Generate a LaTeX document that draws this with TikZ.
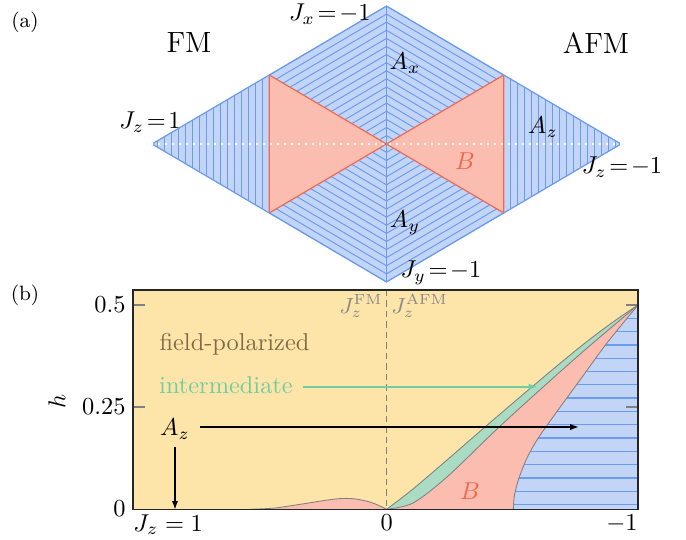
\documentclass[tikz,border=0pt]{standalone}
\usetikzlibrary{arrows.meta}
\definecolor{bfill}{HTML}{C2D5F6}
\definecolor{bline}{HTML}{6B9BEE}
\definecolor{rfill}{HTML}{FCBDB1}
\definecolor{rline}{HTML}{EE6A55}
\definecolor{rtext}{HTML}{F2664A}
\definecolor{yfill}{HTML}{FDE5A9}
\definecolor{gfill}{HTML}{A9DCC3}
\definecolor{gline}{HTML}{70CDA2}
\definecolor{brownt}{HTML}{7E6B45}
\definecolor{grayt}{HTML}{8A8A8A}
\tikzset{
  hatch/.style={draw=bline, line width=0.4pt},
  hatchb/.style={draw=bline, line width=0.55pt},
  edgeb/.style={draw=bline, line width=0.5pt, line join=round},
  edger/.style={draw=rline, fill=rfill, line width=0.5pt, line join=round},
  curve/.style={draw=gray, line width=0.35pt},
  tickm/.style={draw=gray, line width=0.45pt},
  axisbox/.style={draw=black!85, line width=0.5pt},
  arr/.style={-{Latex[length=3.4pt,width=2.6pt]}, line width=0.45pt},
  lab/.style={inner sep=0pt},
}
\begin{document}
\begin{tikzpicture}[x=0.41pt,y=-0.41pt]
\useasboundingbox (0,0) rectangle (686,540);
% ---------------- panel (a) ----------------
\coordinate (T) at (386.5,6);
\coordinate (L) at (152,144);
\coordinate (R) at (621,144);
\coordinate (Bt) at (386.5,282);
\coordinate (C) at (386.5,144);
\coordinate (TL) at (269.25,75);
\coordinate (TR) at (503.75,75);
\coordinate (BL) at (269.25,213);
\coordinate (BR) at (503.75,213);
\fill[bfill] (T)--(R)--(Bt)--(L)--cycle;
% left and right A_z hatch
\begin{scope}
  \clip (L)--(TL)--(BL)--cycle;
  \foreach \i in {1,...,17} \draw[hatch] (269.25-7*\i,0) -- (269.25-7*\i,300);
\end{scope}
\begin{scope}
  \clip (R)--(TR)--(BR)--cycle;
  \foreach \i in {1,...,17} \draw[hatch] (503.75+7*\i,0) -- (503.75+7*\i,300);
\end{scope}
% A_x hatch
\begin{scope}
  \clip (T)--(C)--(TL)--cycle;
  \foreach \i in {0,...,18} \draw[hatch] (386.5,6+8.1*\i) -- (86.5,183+8.1*\i);
\end{scope}
\begin{scope}
  \clip (T)--(TR)--(C)--cycle;
  \foreach \i in {0,...,18} \draw[hatch] (386.5,6+8.1*\i) -- (686.5,183+8.1*\i);
\end{scope}
% A_y hatch
\begin{scope}
  \clip (Bt)--(C)--(BL)--cycle;
  \foreach \i in {0,...,18} \draw[hatch] (386.5,282-8.1*\i) -- (86.5,105-8.1*\i);
\end{scope}
\begin{scope}
  \clip (Bt)--(BR)--(C)--cycle;
  \foreach \i in {0,...,18} \draw[hatch] (386.5,282-8.1*\i) -- (686.5,105-8.1*\i);
\end{scope}
% B triangles
\path[edger] (TL)--(C)--(BL)--cycle;
\path[edger] (TR)--(C)--(BR)--cycle;
\draw[edgeb] (T)--(R)--(Bt)--(L)--cycle;
\draw[edgeb] (T)--(Bt);
\draw[white, line width=1.1pt, line cap=round, dash pattern=on 0pt off 2.87pt] (L)--(R);
% labels (a)
\node[lab] (pa) at (25,22) {\fontsize{8.5}{10}\selectfont (a)};
\node[lab] (fm) at (189,43) {\large FM};
\node[lab] (afm) at (596,43) {\large AFM};
\node[lab, anchor=east] (jx) at (371,14) {$J_x\!=\!-1$};
\node[lab] (jz1) at (150,122) {$J_z\!=\!1$};
\node[lab] (jzm) at (622,167) {$J_z\!=\!-1$};
\node[lab] (jy) at (441,273) {$J_y\!=\!-1$};
\node[lab] (ax) at (405,63) {$A_x$};
\node[lab] (azr) at (543,127) {$A_z$};
\node[lab] (ay) at (405,223) {$A_y$};
\node[lab, text=rtext] (ba) at (465,161) {$B$};
% ---------------- panel (b) ----------------
\fill[yfill] (133,290) rectangle (638,509.3);
% red bump
\fill[rfill] plot[smooth, tension=0.6] coordinates {(250,509.3) (275,508) (299,504.5) (342,498.5) (368,501.5) (386.7,509.3)} -- cycle;
\draw[curve] plot[smooth, tension=0.6] coordinates {(250,509.3) (275,508) (299,504.5) (342,498.5) (368,501.5) (386.7,509.3)};
% green (under upper curve)
\fill[gfill] plot[smooth] coordinates {(386.7,509.3) (413,489) (447,460) (485,427) (533,386) (580,347) (613,322) (638,305)} -- (638,509.3) -- cycle;
% red (under lower curve)
\fill[rfill] plot[smooth] coordinates {(386.7,509.3) (413,503) (447,477) (497,429) (542,388) (586,349) (638,305)} -- (638,509.3) -- cycle;
% blue region
\fill[bfill] plot[smooth] coordinates {(513.3,509.3) (514.5,495) (519,478) (527,458) (537,440) (553,417) (580,380) (607,343) (638,305)} -- (638,509.3) -- cycle;
\begin{scope}
  \clip plot[smooth] coordinates {(513.3,509.3) (514.5,495) (519,478) (527,458) (537,440) (553,417) (580,380) (607,343) (638,305)} -- (638,509.3) -- cycle;
  \foreach \k in {1,...,15} \draw[hatchb] (500,305+13.3*\k) -- (640,305+13.3*\k);
\end{scope}
\draw[curve] plot[smooth] coordinates {(386.7,509.3) (413,489) (447,460) (485,427) (533,386) (580,347) (613,322) (638,305)};
\draw[curve] plot[smooth] coordinates {(386.7,509.3) (413,503) (447,477) (497,429) (542,388) (586,349) (638,305)};
\draw[curve] plot[smooth] coordinates {(513.3,509.3) (514.5,495) (519,478) (527,458) (537,440) (553,417) (580,380) (607,343) (638,305)};
% dashed line
\draw[gray, line width=0.45pt, dash pattern=on 2.6pt off 1.7pt] (386.7,290) -- (386.7,509.3);
% ticks
\foreach \yy in {305,407} {
  \draw[tickm] (133,\yy) -- (145,\yy);
  \draw[tickm] (626,\yy) -- (638,\yy);
}
\draw[axisbox] (133,290) rectangle (638,509.3);
% tick labels
\node[lab, anchor=east] (t05) at (126,305) {$0.5$};
\node[lab, anchor=east] (t025) at (126,407) {$0.25$};
\node[lab, anchor=east] (t0) at (126,509) {$0$};
\node[lab, anchor=north west] (xl) at (133,514) {$J_z = 1$};
\node[lab, anchor=north] (xm) at (386.7,514) {$0$};
\node[lab, anchor=north east] (xr) at (638,514) {$-1$};
\node[lab, rotate=90] (hl) at (57,401) {$h$};
\node[lab] (pb) at (25,295) {\fontsize{8.5}{10}\selectfont (b)};
% in-plot labels
\node[lab, anchor=north east, text=grayt] (jfm) at (383,294) {\small $J_z^{\mathrm{FM}}$};
\node[lab, anchor=north west, text=grayt] (jafm) at (391,294) {\small $J_z^{\mathrm{AFM}}$};
\node[lab, text=brownt] (fp) at (234.5,344) {field-polarized};
\node[inner sep=0pt, text=gline] (intl) at (226,385) {intermediate};
\node[lab] (azl) at (175,429) {$A_z$};
\node[lab, text=rtext] (bb) at (470,491) {$B$};
\coordinate (intend) at (537,386.7);
\coordinate (azend) at (578.5,427);
\coordinate (azdown) at (175,509.3);
\draw[arr, gline, line width=0.75pt] ([xshift=4pt]intl.east |- intend) -- (intend);
\draw[arr, black] ([xshift=4pt]azl.east |- azend) -- (azend);
\draw[arr, black] ([yshift=-3pt]azl.south) -- (azdown);
\end{tikzpicture}
\end{document}
